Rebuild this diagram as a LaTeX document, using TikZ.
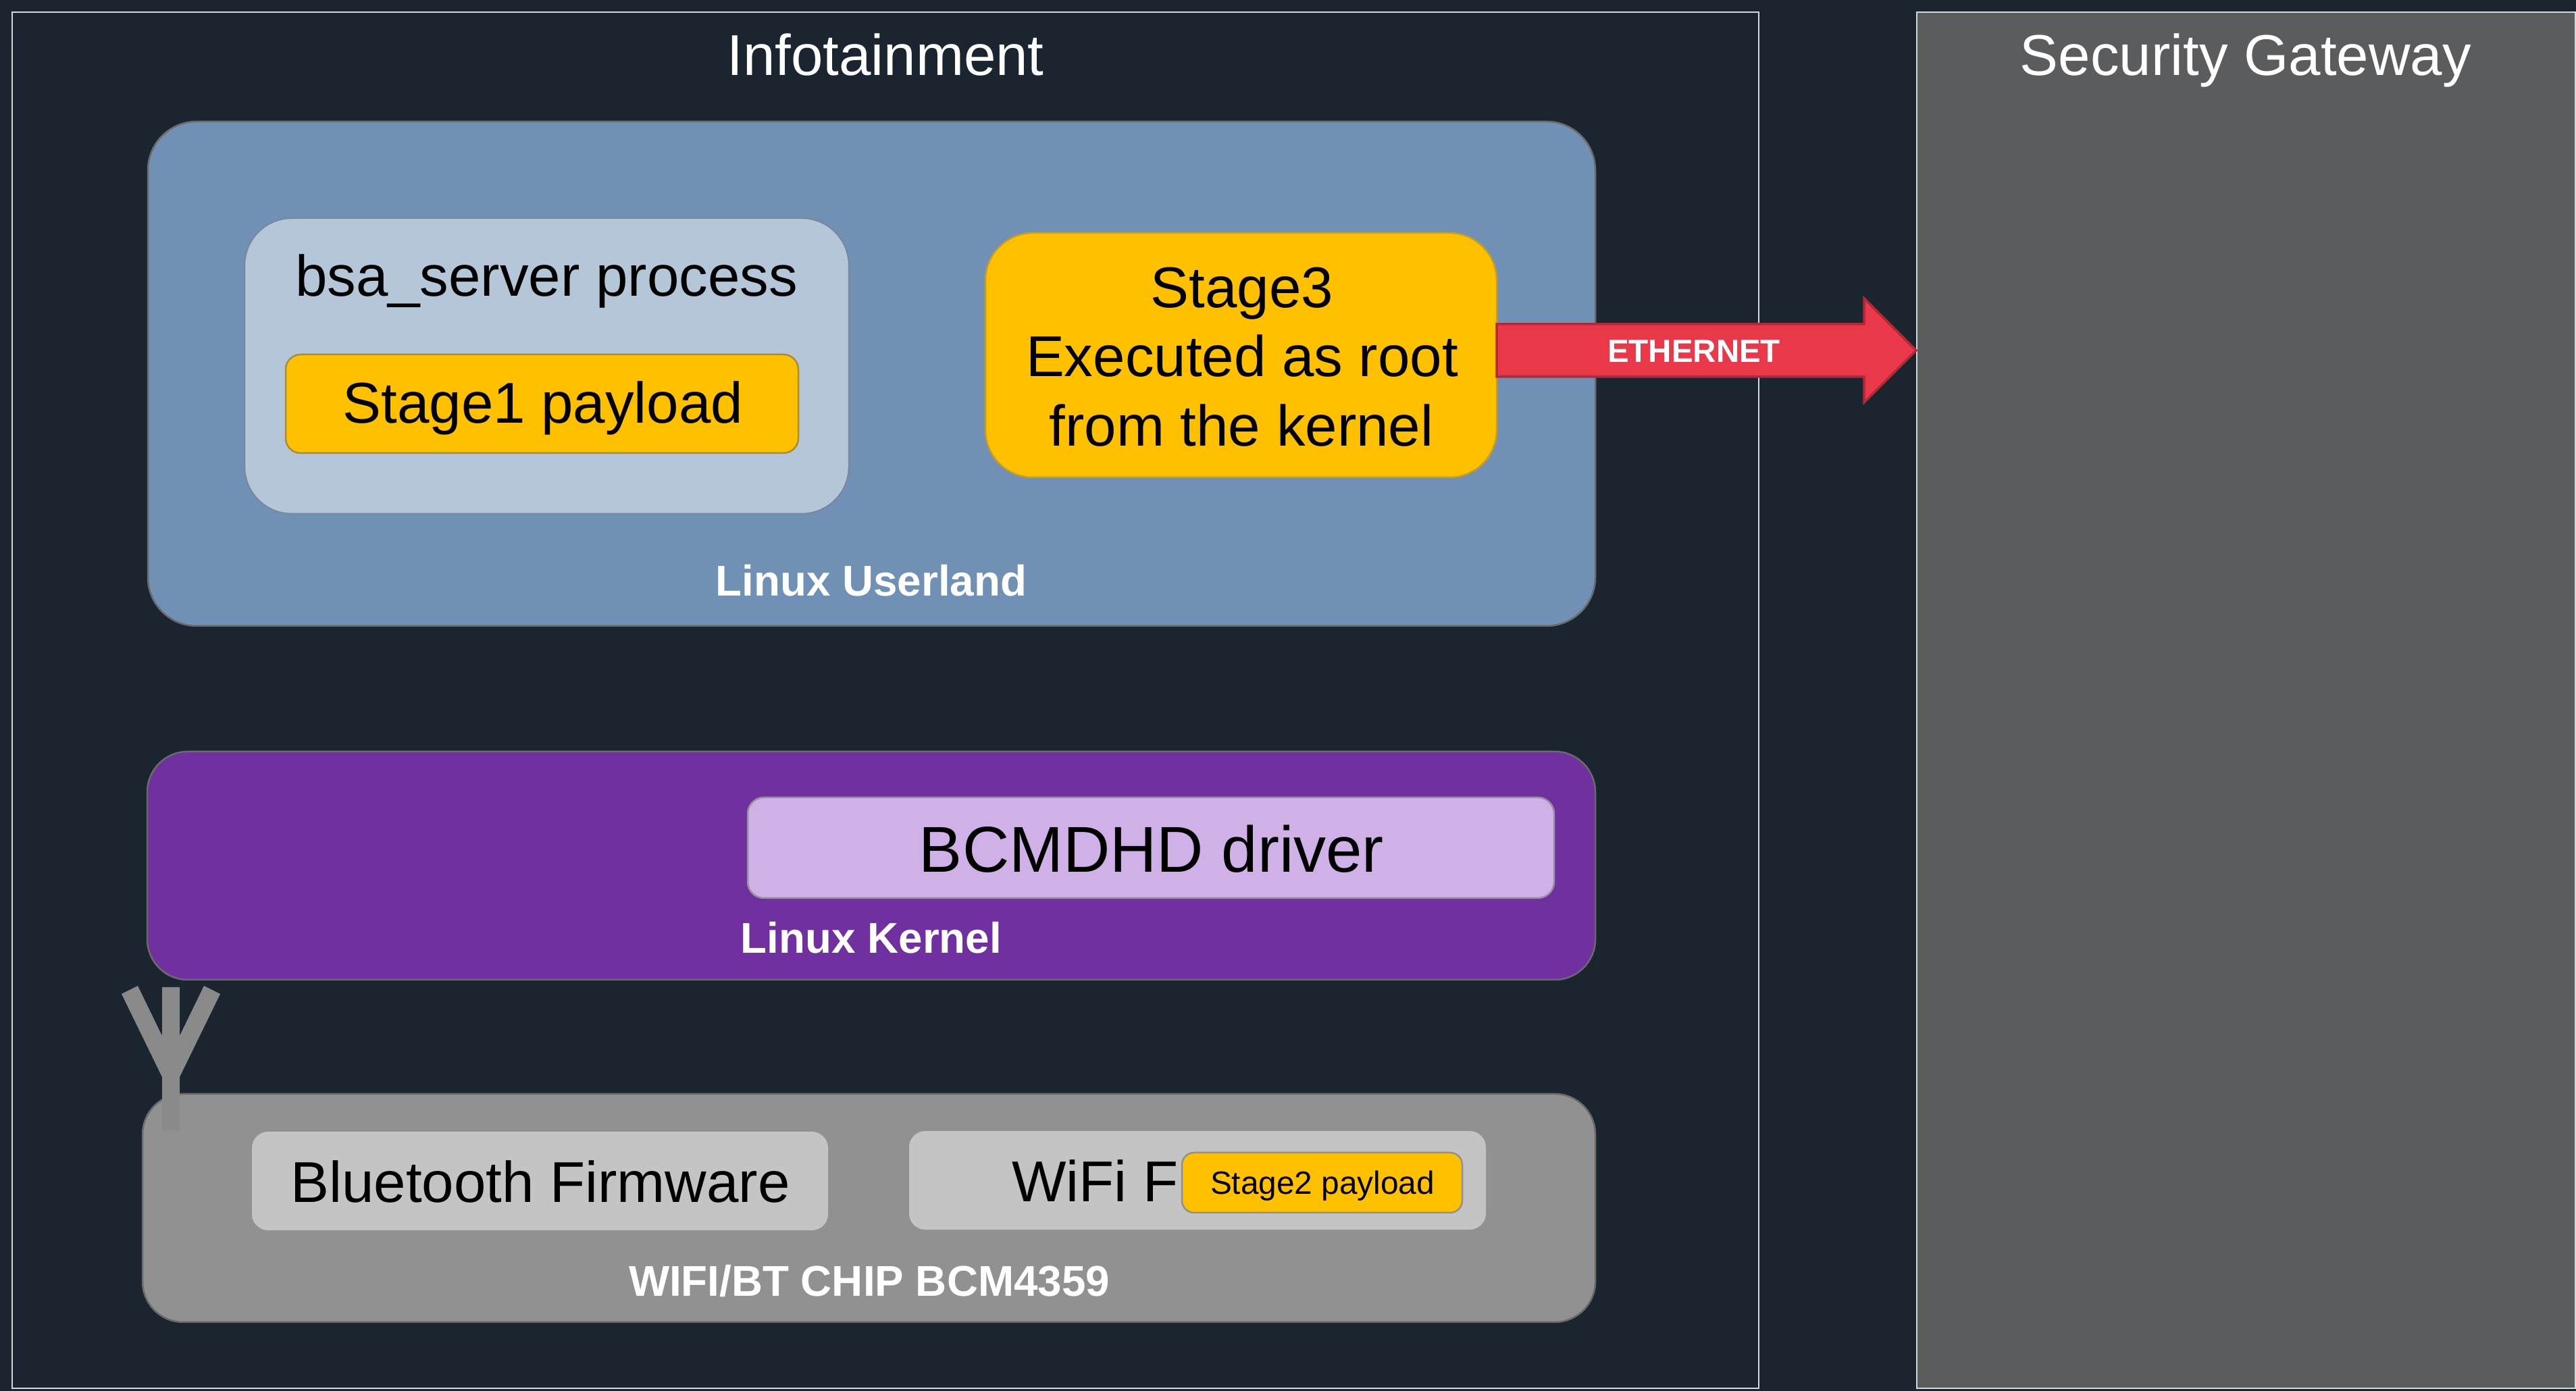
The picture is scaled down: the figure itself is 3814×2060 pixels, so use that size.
\documentclass[tikz,border=0pt]{standalone}
\usepackage{fontspec}
\usetikzlibrary{calc}
\setmainfont{Liberation Sans}
\definecolor{pagebg}{HTML}{1A2530}
\definecolor{frameline}{HTML}{D5D9DC}
\definecolor{gatefill}{HTML}{5B5C5E}
\definecolor{userfill}{HTML}{7091B5}
\definecolor{bsafill}{HTML}{B5C6D9}
\definecolor{stagefill}{HTML}{FFC000}
\definecolor{kernelfill}{HTML}{7030A0}
\definecolor{driverfill}{HTML}{CFB1E8}
\definecolor{chipfill}{HTML}{919191}
\definecolor{fwfill}{HTML}{C4C4C4}
\definecolor{antfill}{HTML}{8A8A8A}
\definecolor{arrowfill}{HTML}{E8384A}
\definecolor{arrowline}{HTML}{B02A3A}
\definecolor{boxline}{HTML}{6A6A6A}
\newcommand{\pane}[7]{%
  \pgfmathsetmacro{\pw}{(#5-#3)*0.2}%
  \pgfmathsetmacro{\ph}{(#6-#4)*0.2}%
  \node[#1, rounded corners=#7*0.2pt, minimum width=\pw pt, minimum height=\ph pt]
    (#2) at ({(#3+#5)/2},{(#4+#6)/2}) {};}
\tikzset{
  pane/.style={draw=boxline, line width=0.5pt, inner sep=0pt, outer sep=0pt, rectangle},
  framebox/.style={pane, draw=frameline, line width=0.35pt},
  flatpane/.style={pane, draw=none},
  txt/.style={anchor=base, inner sep=0pt, outer sep=0pt, text=black},
  bigtxt/.style={txt, font=\fontsize{17.05}{20}\selectfont},
  hugetxt/.style={txt, font=\fontsize{19.2}{22}\selectfont},
  title/.style={txt, text=white, font=\fontsize{17.05}{20}\selectfont},
  lbl/.style={txt, text=white, font=\bfseries\fontsize{12.75}{15}\selectfont},
  smalltxt/.style={txt, font=\fontsize{9.55}{12}\selectfont},
  ethtxt/.style={txt, text=white, font=\bfseries\fontsize{9.5}{12}\selectfont},
  redarrow/.style={fill=arrowfill, draw=arrowline, line width=0.7pt, line join=miter},
}
\begin{document}
\begin{tikzpicture}[x=0.2pt,y=-0.2pt]
\useasboundingbox (0,0) rectangle (3814,2060);
\fill[pagebg] (0,0) rectangle (3814,2060);
% containers
\pane{framebox}{info}{18}{18}{2604}{2056}{0}
\pane{framebox, fill=gatefill}{gate}{2838}{18}{3813}{2056}{0}
\node[title] (infotitle) at (1311,112) {Infotainment};
\node[title] (gatetitle) at (3325,112) {Security Gateway};
% userland
\pane{pane, fill=userfill}{user}{219}{180}{2362}{927}{72}
\pane{pane, draw=userfill!60!gray, fill=bsafill}{bsa}{362}{323}{1257}{761}{70}
\pane{pane, draw=boxline!60!stagefill, fill=stagefill}{stageone}{423}{525}{1182}{671}{22}
\pane{pane, draw=boxline!40!stagefill, fill=stagefill}{stagethree}{1459}{345}{2216}{707}{70}
\node[bigtxt] (bsatxt) at (809,439) {bsa\_server process};
\node[bigtxt] (s1txt) at (804,627) {Stage1 payload};
\node[bigtxt] (s3a) at (1839,456) {Stage3};
\node[bigtxt] (s3b) at (1839,558) {Executed as root};
\node[bigtxt] (s3c) at (1838,661) {from the kernel};
\node[lbl] (usertxt) at (1290,883) {Linux Userland};
% kernel
\pane{pane, fill=kernelfill}{kernel}{218}{1113}{2362}{1451}{60}
\pane{pane, draw=gray!70!driverfill, fill=driverfill}{driver}{1107}{1181}{2301}{1330}{24}
\node[hugetxt] (drvtxt) at (1705,1292) {BCMDHD driver};
\node[lbl] (kerntxt) at (1290,1412) {Linux Kernel};
% chip
\pane{pane, fill=chipfill}{chip}{211}{1620}{2362}{1958}{60}
\pane{flatpane, fill=fwfill}{bt}{373}{1676}{1226}{1822}{24}
\pane{flatpane, fill=fwfill}{wifi}{1346}{1675}{2200}{1821}{24}
\node[bigtxt] (bttxt) at (800,1781) {Bluetooth Firmware};
\node[bigtxt, anchor=base west] (wifitxt) at (1498,1780) {WiFi F};
\pane{pane, draw=chipfill, fill=stagefill}{stagetwo}{1750}{1707}{2165}{1796}{18}
\node[smalltxt] (s2txt) at (1958,1769) {Stage2 payload};
\node[lbl] (chiptxt) at (1287,1920) {WIFI/BT CHIP BCM4359};
% antenna
\fill[antfill] (240,1462) -- (266,1462) -- (266,1534) -- (302,1460) -- (326,1472)
  -- (266,1595) -- (266,1674) -- (240,1674) -- (240,1595) -- (180,1472) -- (204,1460)
  -- (240,1534) -- cycle;
% arrow
\coordinate (tip) at ($(gate.west |- 0,519)+(-1,0)$);
\draw[redarrow] (stagethree.east |- 0,480) -- (2760,480) -- (2760,442) -- (tip)
  -- (2760,596) -- (2760,558) -- (stagethree.east |- 0,558) -- cycle;
\node[ethtxt] (ethtxt) at (2508,537) {ETHERNET};
\end{tikzpicture}
\end{document}
